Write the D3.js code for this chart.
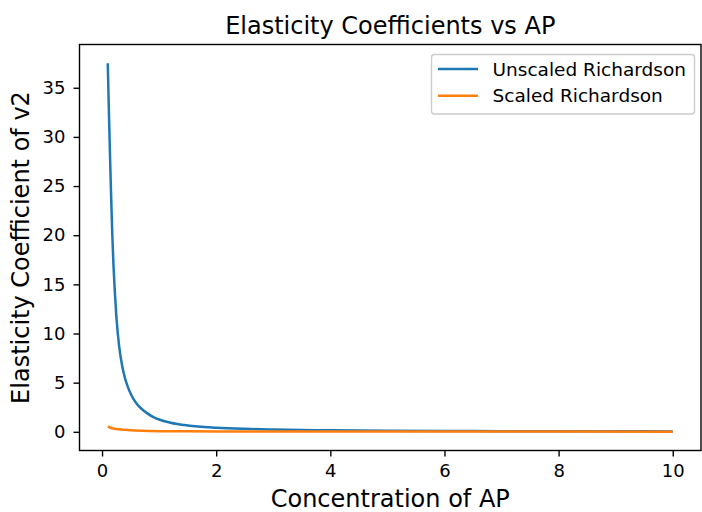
<!DOCTYPE html>
<html><head><meta charset="utf-8">
<script src="https://cdn.jsdelivr.net/npm/d3@7"></script>
<style>body{margin:0;background:#fff}svg{display:block}text{font-family:"DejaVu Sans",sans-serif;fill:#000}</style>
</head><body><svg id="c" width="702" height="512"></svg>
<script>
const unscaledX = [0.1,0.12,0.14,0.16,0.18,0.2,0.22,0.25,0.3,0.35,0.4,0.45,0.5,0.6,0.7,0.8,0.9,1.0,1.2,1.5,2.0,2.5,3,4,5,6,7,8,9,10];
const unscaledY = [37.5,32.6,28.0,23.8,20.0,17.0,14.7,11.8,8.7,6.8,5.5,4.6,3.9,2.9,2.3,1.85,1.5,1.25,0.93,0.65,0.42,0.30,0.23,0.15,0.11,0.085,0.07,0.06,0.05,0.045];
const scaledX = [0.1,0.15,0.2,0.3,0.4,0.5,0.7,1.0,1.5,2,3,4,6,8,10];
const scaledY = [0.54,0.42,0.34,0.25,0.2,0.16,0.11,0.07,0.05,0.04,0.035,0.03,0.025,0.022,0.02];
const xTicks = [0,2,4,6,8,10];
const yTicks = [0,5,10,15,20,25,30,35];
const seriesNames = ["Unscaled Richardson","Scaled Richardson"];
const colors = ["#1f77b4","#ff7f0e"];

const svg = d3.select("#c");
const L=79.5, R=701, T=44.5, B=450.5;
const x = d3.scaleLinear().domain([-0.395,10.495]).range([L,R]);
const y = d3.scaleLinear().domain([-1.9,39.4]).range([B,T]);

const series = [unscaledX.map((v,i)=>[v,unscaledY[i]]), scaledX.map((v,i)=>[v,scaledY[i]])];
const line = d3.line().x(d=>x(d[0])).y(d=>y(d[1])).curve(d3.curveMonotoneX);
series.forEach((s,i)=>{
  svg.append("path").attr("d",line(s)).attr("fill","none").attr("stroke",colors[i]).attr("stroke-width",2.5);
});

const xa = svg.append("g").attr("transform",`translate(0,${B})`)
  .call(d3.axisBottom(x).tickValues(xTicks).tickSize(6).tickPadding(8).tickFormat(d3.format("d")));
const ya = svg.append("g").attr("transform",`translate(${L},0)`)
  .call(d3.axisLeft(y).tickValues(yTicks).tickSize(6).tickPadding(8).tickFormat(d3.format("d")));
[xa,ya].forEach(a=>{a.select(".domain").remove();a.selectAll("text").attr("font-size",18).attr("font-family","DejaVu Sans");a.selectAll("line").attr("stroke-width",1.4);});
svg.append("rect").attr("x",L).attr("y",T).attr("width",R-L).attr("height",B-T).attr("fill","none").attr("stroke","#000").attr("stroke-width",1.4);

svg.append("text").attr("x",(L+R)/2).attr("y",33.5).attr("text-anchor","middle").attr("font-size",24).text("Elasticity Coefficients vs AP");
svg.append("text").attr("x",(L+R)/2).attr("y",507).attr("text-anchor","middle").attr("font-size",24).text("Concentration of AP");
svg.append("text").attr("transform",`translate(29,${(T+B)/2}) rotate(-90)`).attr("text-anchor","middle").attr("font-size",24).text("Elasticity Coefficient of v2");

const lg = svg.append("g");
lg.append("rect").attr("x",431.5).attr("y",54.5).attr("width",263).attr("height",59.5).attr("rx",3).attr("fill","#fff").attr("fill-opacity",0.8).attr("stroke","#ccc").attr("stroke-width",1.4);
seriesNames.forEach((n,i)=>{
  const yy = 69 + i*26.7;
  lg.append("line").attr("x1",438).attr("x2",478).attr("y1",yy).attr("y2",yy).attr("stroke",colors[i]).attr("stroke-width",2.5);
  lg.append("text").attr("x",492.5).attr("y",yy+6.5).attr("font-size",18.5).text(n);
});
</script></body></html>
